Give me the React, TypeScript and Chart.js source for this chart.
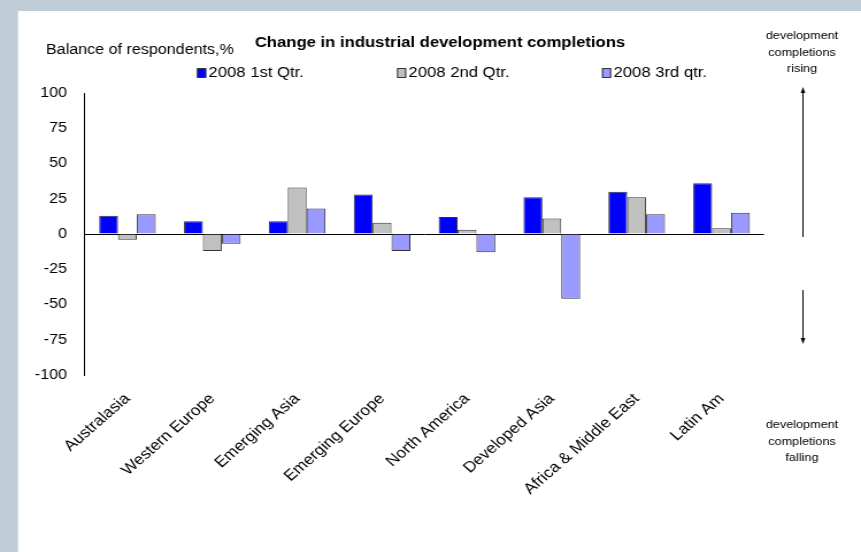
import React, { useEffect, useRef } from "react";
import { Chart, registerables } from "chart.js";

Chart.register(...registerables);

const categories = [
  "Australasia",
  "Western Europe",
  "Emerging Asia",
  "Emerging Europe",
  "North America",
  "Developed Asia",
  "Africa & Middle East",
  "Latin Am",
];
const q1Values = [13, 9, 9, 28, 12, 26, 30, 36];
const q2Values = [-4, -12, 33, 8, 3, 11, 26, 4];
const q3Values = [14, -7, 18, -12, -13, -46, 14, 15];
const seriesNames = ["2008 1st Qtr.", "2008 2nd Qtr.", "2008 3rd qtr."];
const seriesColors = ["#0000ff", "#c0c0c0", "#9999ff"];
const chartTitle = "Change in industrial development completions";
const yAxisTitle = "Balance of respondents,%";
const risingNote = ["development", "completions", "rising"];
const fallingNote = ["development", "completions", "falling"];

const FONT = "'Liberation Sans', Arial, sans-serif";

// The picture is drawn on a narrower canvas and stretched horizontally on screen
const OUT_W = 861;
const OUT_H = 552;
const W = 749;
const K = OUT_W / W;
const r = (x: number) => x / K;

export default function App() {
  const ref = useRef<HTMLCanvasElement | null>(null);

  useEffect(() => {
    const canvas = ref.current;
    if (!canvas) return;

    const background = {
      id: "background",
      beforeDraw(chart: any) {
        const { ctx, width, height } = chart;
        ctx.save();
        ctx.fillStyle = "#c0ccd6";
        ctx.fillRect(0, 0, width, height);
        ctx.fillStyle = "#ffffff";
        ctx.fillRect(r(18), 11, width - r(18), height - 11);
        ctx.restore();
      },
    };

    const overlay = {
      id: "overlay",
      afterDraw(chart: any) {
        const { ctx } = chart;
        ctx.save();
        ctx.fillStyle = "#000";
        ctx.textBaseline = "middle";
        // title
        ctx.font = `bold 14.5px ${FONT}`;
        ctx.textAlign = "center";
        ctx.fillText(chartTitle, r(440), 43);
        // y axis title
        ctx.font = `14px ${FONT}`;
        ctx.textAlign = "left";
        ctx.fillText(yAxisTitle, r(46), 50);
        // legend
        const boxX = [r(197), r(397), r(602)];
        seriesNames.forEach((name, i) => {
          ctx.fillStyle = seriesColors[i];
          ctx.fillRect(boxX[i], 68.5, 8, 9);
          ctx.strokeStyle = "#333";
          ctx.lineWidth = 1;
          ctx.strokeRect(boxX[i] + 0.5, 68.5, 7, 9);
          ctx.fillStyle = "#000";
          ctx.font = `14.5px ${FONT}`;
          ctx.textAlign = "left";
          ctx.fillText(name, boxX[i] + 10, 73);
        });
        // right annotations
        ctx.font = `11px ${FONT}`;
        ctx.textAlign = "center";
        risingNote.forEach((t, i) => ctx.fillText(t, r(802), 36 + i * 16.5));
        fallingNote.forEach((t, i) => ctx.fillText(t, r(802), 425 + i * 16.5));
        // arrows
        const ax = Math.round(r(802)) + 0.5;
        ctx.strokeStyle = "#000";
        ctx.lineWidth = 1;
        ctx.beginPath();
        ctx.moveTo(ax, 237);
        ctx.lineTo(ax, 92);
        ctx.moveTo(ax, 290);
        ctx.lineTo(ax, 339);
        ctx.stroke();
        ctx.beginPath();
        ctx.moveTo(ax, 87);
        ctx.lineTo(ax - 2, 93);
        ctx.lineTo(ax + 2, 93);
        ctx.closePath();
        ctx.moveTo(ax, 344);
        ctx.lineTo(ax - 2, 338);
        ctx.lineTo(ax + 2, 338);
        ctx.closePath();
        ctx.fillStyle = "#000";
        ctx.fill();
        ctx.restore();
      },
    };

    const values = [q1Values, q2Values, q3Values];
    const chart = new Chart(canvas, {
      type: "bar",
      data: {
        labels: categories,
        datasets: values.map((v, i) => ({
          label: seriesNames[i],
          data: v,
          backgroundColor: seriesColors[i],
          borderColor: "#333333",
          borderWidth: 1,
          categoryPercentage: 0.667,
          barPercentage: 1,
        })),
      },
      options: {
        responsive: false,
        animation: false,
        layout: { padding: { left: 0, top: 93, right: W - r(764), bottom: 0 } },
        plugins: {
          legend: { display: false },
          title: { display: false },
          tooltip: { enabled: false },
        },
        scales: {
          x: {
            grid: { display: false },
            border: { display: false },
            ticks: {
              autoSkip: false,
              minRotation: 45,
              maxRotation: 45,
              color: "#000",
              padding: 7,
              font: { family: FONT, size: 15 },
            },
            afterFit(scale: any) {
              scale.height = OUT_H - 375;
            },
          },
          y: {
            min: -100,
            max: 100,
            ticks: {
              stepSize: 25,
              color: "#000",
              padding: r(85) - r(67),
              font: { family: FONT, size: 14 },
            },
            grid: {
              drawTicks: false,
              color: (c: any) => (c.tick && c.tick.value === 0 ? "#000" : "rgba(0,0,0,0)"),
              lineWidth: 1,
            },
            border: { display: true, color: "#000", width: 1 },
            afterFit(scale: any) {
              scale.width = r(85);
            },
          },
        },
      },
      plugins: [background, overlay],
    });

    return () => chart.destroy();
  }, []);

  return (
    <div style={{ position: "fixed", left: 0, top: 0, width: OUT_W, height: OUT_H }}>
      <canvas
        ref={ref}
        width={W}
        height={OUT_H}
        style={{ display: "block", width: OUT_W + "px", height: OUT_H + "px" }}
      />
    </div>
  );
}
